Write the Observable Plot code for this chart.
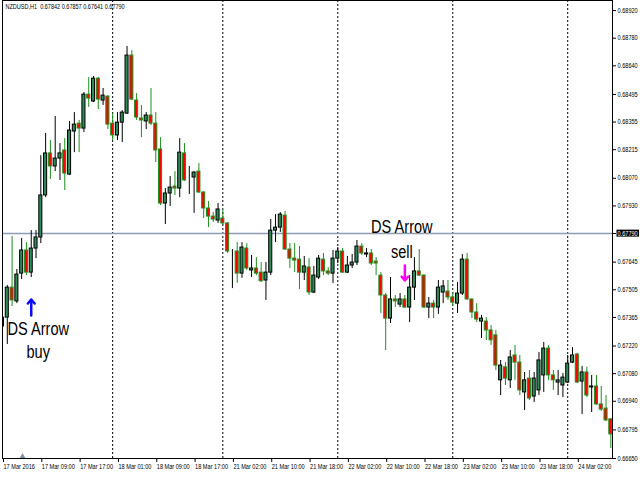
<!DOCTYPE html>
<html><head><meta charset="utf-8">
<script src="https://cdn.jsdelivr.net/npm/d3@7"></script>
<script src="https://cdn.jsdelivr.net/npm/@observablehq/plot@0.6"></script>
<style>
html,body{margin:0;padding:0;background:#fff;}
</style>
</head><body><div id="chart"></div>
<script>
const symbolLabel = "NZDUSD,H1  0.67842 0.67857 0.67641 0.67790";

const open = [0.67319,0.67364,0.67516,0.67446,0.67587,0.67704,0.67592,0.67714,0.67770,0.67983,
0.68196,0.68130,0.68170,0.68211,0.68089,0.68307,0.68347,0.68322,0.68494,0.68459,
0.68575,0.68464,0.68484,0.68347,0.68287,0.68352,0.68398,0.68692,0.68464,0.68373,
0.68358,0.68388,0.68347,0.68216,0.67942,0.67993,0.68028,0.68018,0.68196,0.68076,
0.68074,0.68104,0.67998,0.67917,0.67876,0.67856,0.67866,0.67841,0.67704,0.67699,
0.67587,0.67714,0.67603,0.67613,0.67592,0.67552,0.67592,0.67805,0.67820,0.67881,
0.67709,0.67663,0.67658,0.67592,0.67618,0.67491,0.67567,0.67658,0.67598,0.67587,
0.67663,0.67699,0.67592,0.67628,0.67643,0.67724,0.67684,0.67689,0.67648,0.67577,
0.67476,0.67359,0.67456,0.67430,0.67456,0.67415,0.67516,0.67598,0.67577,0.67415,
0.67435,0.67415,0.67491,0.67496,0.67466,0.67435,0.67486,0.67658,0.67456,0.67390,
0.67344,0.67344,0.67299,0.67274,0.67046,0.67112,0.67046,0.67172,0.67136,0.66985,
0.67055,0.66964,0.66995,0.67071,0.67207,0.67071,0.67035,0.67020,0.67035,0.67136,
0.67177,0.67040,0.67086,0.67010,0.67015,0.66924,0.66903,0.66848];

const high = [0.67390,0.67527,0.67775,0.67608,0.67765,0.67744,0.67805,0.67805,0.68185,0.68297,
0.68261,0.68383,0.68246,0.68271,0.68358,0.68403,0.68363,0.68505,0.68581,0.68586,
0.68581,0.68525,0.68489,0.68398,0.68403,0.68413,0.68738,0.68717,0.68499,0.68439,
0.68403,0.68525,0.68403,0.68276,0.68018,0.68079,0.68104,0.68271,0.68246,0.68130,
0.68104,0.68145,0.68003,0.67952,0.67896,0.67942,0.67907,0.67846,0.67709,0.67744,
0.67744,0.67739,0.67679,0.67668,0.67643,0.67643,0.67861,0.67886,0.67896,0.67902,
0.67739,0.67739,0.67724,0.67674,0.67663,0.67623,0.67679,0.67689,0.67618,0.67704,
0.67719,0.67714,0.67674,0.67684,0.67755,0.67739,0.67714,0.67709,0.67668,0.67592,
0.67486,0.67567,0.67476,0.67486,0.67476,0.67577,0.67668,0.67709,0.67582,0.67466,
0.67451,0.67552,0.67552,0.67552,0.67491,0.67542,0.67684,0.67689,0.67456,0.67435,
0.67375,0.67364,0.67324,0.67299,0.67147,0.67136,0.67197,0.67223,0.67172,0.67086,
0.67096,0.67086,0.67187,0.67238,0.67223,0.67096,0.67096,0.67081,0.67172,0.67212,
0.67182,0.67116,0.67112,0.67071,0.67071,0.67015,0.66969,0.66853];

const low = [0.67299,0.67228,0.67420,0.67435,0.67557,0.67577,0.67567,0.67663,0.67739,0.67972,
0.68064,0.68104,0.68059,0.68008,0.68084,0.68200,0.68200,0.68302,0.68429,0.68454,
0.68418,0.68439,0.68317,0.68261,0.68261,0.68251,0.68393,0.68464,0.68363,0.68276,
0.68317,0.68337,0.68150,0.67932,0.67836,0.67927,0.67983,0.67972,0.68054,0.67988,
0.67892,0.67993,0.67866,0.67820,0.67846,0.67841,0.67831,0.67689,0.67511,0.67537,
0.67563,0.67603,0.67567,0.67577,0.67542,0.67451,0.67577,0.67744,0.67795,0.67704,
0.67613,0.67592,0.67506,0.67552,0.67476,0.67486,0.67557,0.67577,0.67577,0.67537,
0.67638,0.67587,0.67587,0.67613,0.67628,0.67679,0.67668,0.67628,0.67577,0.67385,
0.67197,0.67334,0.67415,0.67415,0.67410,0.67339,0.67451,0.67572,0.67410,0.67359,
0.67359,0.67380,0.67435,0.67451,0.67420,0.67385,0.67476,0.67451,0.67359,0.67339,
0.67258,0.67248,0.67223,0.67096,0.66969,0.67020,0.67005,0.67046,0.66969,0.66893,
0.66944,0.66934,0.66969,0.66985,0.67046,0.66995,0.66969,0.66959,0.67030,0.67131,
0.67030,0.66873,0.66959,0.66883,0.66919,0.66888,0.66837,0.66701];

const close = [0.67364,0.67516,0.67451,0.67582,0.67704,0.67592,0.67714,0.67770,0.67983,0.68196,
0.68130,0.68170,0.68196,0.68094,0.68312,0.68342,0.68322,0.68494,0.68474,0.68575,
0.68469,0.68489,0.68342,0.68287,0.68352,0.68403,0.68692,0.68469,0.68378,0.68363,
0.68388,0.68347,0.68211,0.67942,0.67993,0.68023,0.68018,0.68200,0.68059,0.68076,
0.68099,0.67998,0.67917,0.67876,0.67861,0.67912,0.67841,0.67699,0.67704,0.67587,
0.67719,0.67613,0.67613,0.67587,0.67548,0.67592,0.67805,0.67820,0.67886,0.67709,
0.67663,0.67653,0.67592,0.67623,0.67491,0.67577,0.67663,0.67598,0.67587,0.67663,
0.67699,0.67592,0.67628,0.67643,0.67724,0.67689,0.67689,0.67638,0.67638,0.67476,
0.67359,0.67456,0.67446,0.67456,0.67415,0.67516,0.67598,0.67577,0.67415,0.67435,
0.67415,0.67516,0.67522,0.67466,0.67440,0.67486,0.67658,0.67456,0.67390,0.67354,
0.67359,0.67299,0.67249,0.67121,0.67121,0.67055,0.67162,0.67136,0.66995,0.67046,
0.66954,0.67055,0.67147,0.67207,0.67071,0.67046,0.67046,0.67060,0.67131,0.67172,
0.67035,0.67086,0.66969,0.67015,0.66924,0.66898,0.66843,0.66772];

const timeTickIndex = [0,8,16,24,32,40,48,56,64,72,80,88,96,104,112,120];
const timeTickLabels = ["17 Mar 2016","17 Mar 09:00","17 Mar 17:00","18 Mar 01:00","18 Mar 09:00","18 Mar 17:00",
"21 Mar 02:00","21 Mar 10:00","21 Mar 18:00","22 Mar 02:00","22 Mar 10:00","22 Mar 18:00",
"23 Mar 02:00","23 Mar 10:00","23 Mar 18:00","24 Mar 02:00"];
const daySeparators = [23,46,70,94,118];
const priceTicks = [0.68920,0.68780,0.68640,0.68495,0.68355,0.68215,0.68070,0.67930,0.67790,
0.67645,0.67505,0.67365,0.67220,0.67080,0.66940,0.66795,0.66650];
const currentPrice = 0.67790;

const signalIndex = [6, 84];
const signalType = ["buy", "sell"];
const signalLabel = ["DS Arrow\nbuy", "DS Arrow\nsell"];
const signalFrom = [0.67375, 0.67628];
const signalTo = [0.67456, 0.67552];

const candles = open.map((o, i) => ({i, o, h: high[i], l: low[i], c: close[i]}));
const signals = signalIndex.map((i, k) => ({i, type: signalType[k], label: signalLabel[k], from: signalFrom[k], to: signalTo[k]}));

const BULL_FILL = "#2e8b57", BEAR_FILL = "#ff0000", BULL_LINE = "#000000", BEAR_LINE = "#1d8f1d";
const FONT = "'Liberation Sans',Arial,sans-serif";
const isBull = d => d.c >= d.o;

const plot = Plot.plot({
  width: 640, height: 480,
  marginLeft: 2, marginRight: 28, marginTop: 0, marginBottom: 22,
  style: {fontFamily: FONT, fontSize: "6.5px", background: "#fff", color: "#000"},
  x: {type: "linear", domain: [0, 127.35], label: null},
  y: {domain: [0.66650, 0.68971], label: null},
  color: {type: "identity"},
  marks: [
    Plot.ruleX(daySeparators, {stroke: "#000", strokeDasharray: "2,2", strokeWidth: 1}),
    Plot.ruleY([currentPrice], {stroke: "#8d9db3", strokeWidth: 1.5}),
    Plot.ruleX(candles, {x: "i", y1: "l", y2: "h", stroke: d => isBull(d) ? BULL_LINE : BEAR_LINE, strokeWidth: 1, clip: true}),
    Plot.rect(candles, {x1: d => d.i - 0.32, x2: d => d.i + 0.32, y1: "o", y2: "c",
      fill: d => isBull(d) ? BULL_FILL : BEAR_FILL, stroke: d => isBull(d) ? BULL_LINE : BEAR_LINE, strokeWidth: 1, clip: true}),
    Plot.arrow(signals, {x: "i", y1: "from", y2: "to", stroke: d => d.type === "buy" ? "#0a0aff" : "#ff00ff",
      strokeWidth: 2.5, headLength: 7, headAngle: 80}),
    Plot.text(signals.filter(d => d.type === "buy"), {x: "i", y: "from", text: "label", lineAnchor: "top",
      dx: 7, dy: 3, fontSize: 18, lineHeight: 1.3, fill: "#000"}),
    Plot.text(signals.filter(d => d.type === "sell"), {x: "i", y: "from", text: "label", lineAnchor: "bottom",
      dx: -3, dy: -8, fontSize: 18, lineHeight: 1.35, fill: "#000"}),
    Plot.text([symbolLabel], {frameAnchor: "top-left", dx: 3, dy: 4, lineAnchor: "top", textAnchor: "start", fontSize: 6.5, fill: "#000"}),
    Plot.dot([0], {frameAnchor: "bottom-left", dx: 20, dy: -2, symbol: "triangle", r: 2.2, fill: "#8090a4", stroke: "none"}),
    Plot.axisY({anchor: "right", ticks: priceTicks, tickFormat: d3.format(".5f"), tickSize: 3, tickPadding: 2, fontSize: 6.5, label: null}),
    Plot.axisX({ticks: timeTickIndex, tickFormat: d => timeTickLabels[timeTickIndex.indexOf(d)], textAnchor: "start",
      tickSize: 4, tickPadding: 2, dx: 1, fontSize: 6.5, label: null}),
    Plot.frame({stroke: "#000"})
  ]
});
document.getElementById("chart").append(plot);

// horizontally condense text (the reference uses a narrow face)
function squeeze(nodes, ratio) {
  nodes.forEach(node => {
    const parts = node.querySelectorAll("tspan");
    (parts.length ? Array.from(parts) : [node]).forEach(t => {
      const w = t.getComputedTextLength();
      if (w > 0) {
        t.setAttribute("textLength", (w * ratio).toFixed(2));
        t.setAttribute("lengthAdjust", "spacingAndGlyphs");
      }
    });
  });
}
const allText = Array.from(plot.querySelectorAll("text"));
squeeze(Array.from(plot.querySelectorAll('g[aria-label="y-axis tick label"] text')), 0.86);
squeeze(Array.from(plot.querySelectorAll('g[aria-label="x-axis tick label"] text')), 0.86);
squeeze(allText.filter(t => t.textContent.startsWith("DS Arrow")), 0.81);
squeeze(allText.filter(t => t.textContent.startsWith("NZDUSD")), 0.85);

// current-price label with black background on the price axis
d3.select(plot).selectAll('g[aria-label="y-axis tick label"] text').each(function() {
  if (this.textContent === d3.format(".5f")(currentPrice)) {
    const b = this.getBBox();
    const r = document.createElementNS("http://www.w3.org/2000/svg", "rect");
    r.setAttribute("x", b.x - 1); r.setAttribute("y", b.y);
    r.setAttribute("width", b.width + 2); r.setAttribute("height", b.height);
    r.setAttribute("fill", "#000");
    if (this.getAttribute("transform")) r.setAttribute("transform", this.getAttribute("transform"));
    this.parentNode.insertBefore(r, this);
    this.setAttribute("fill", "#fff");
  }
});
</script>
</body></html>
